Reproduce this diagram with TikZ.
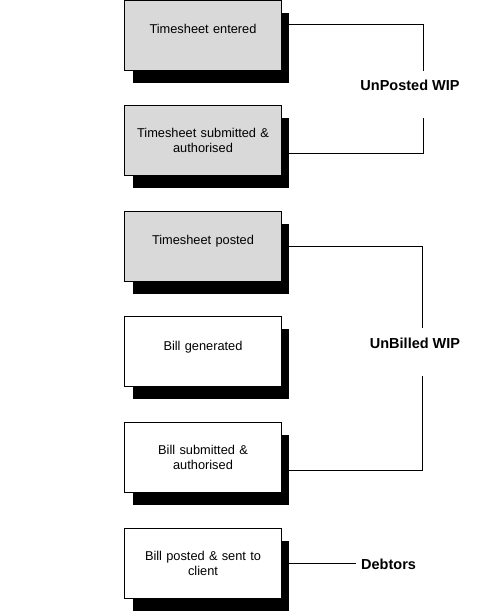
\documentclass[tikz,border=0pt]{standalone}
\usepackage{fontspec}
\setmainfont{Liberation Sans}
\usetikzlibrary{positioning, shadows}
\definecolor{stagegray}{RGB}{217, 217, 217}

\begin{document}
\begin{tikzpicture}[
  x=1pt, y=1pt,
  node distance=34.8pt,
  box/.style={
    rectangle, draw=black, line width=0.8pt,
    minimum width=156pt, minimum height=70pt,
    text width=150pt, align=center,
    font=\fontsize{12.8}{15}\selectfont,
    general shadow={fill=black, shadow xshift=8pt, shadow yshift=-12.5pt}
  },
  oneline/.style={text depth=12pt},
  done/.style={fill=stagegray},
  todo/.style={fill=white},
  tag/.style={font=\fontsize{14.5}{17}\selectfont\bfseries, inner sep=0pt},
  link/.style={line width=0.8pt}
]
  \useasboundingbox (0,0) rectangle (500,-611);

  \node[box, done, oneline] (entered) at (203,-35) {Timesheet entered};
  \node[box, done, below=of entered] (submitted) {Timesheet submitted \&\\authorised};
  \node[box, done, oneline, below=of submitted] (tsposted) {Timesheet posted};
  \node[box, todo, oneline, below=of tsposted] (generated) {Bill generated};
  \node[box, todo, below=of generated] (billsub) {Bill submitted \&\\authorised};
  \node[box, todo, below=of billsub] (billposted) {Bill posted \& sent to\\client};

  \node[tag] (unposted) at (410,-85) {UnPosted WIP};
  \node[tag] (unbilled) at (415,-343) {UnBilled WIP};
  \node[tag, anchor=west] (debtors) at (361,-564) {Debtors};

  \coordinate (unposted top) at (423,-71);
  \coordinate (unposted bottom) at (423,-118);
  \coordinate (unbilled top) at (422,-328);
  \coordinate (unbilled bottom) at (422,-376);

  \draw[link] ([yshift=11pt]entered.east) -| (unposted top);
  \draw[link] ([yshift=-12.5pt]submitted.east) -| (unposted bottom);
  \draw[link] (tsposted.east) -| (unbilled top);
  \draw[link] ([yshift=-12.5pt]billsub.east) -| (unbilled bottom);
  \draw[link] (billposted.east) -- ([xshift=-5pt]debtors.west |- billposted.east);
\end{tikzpicture}
\end{document}
